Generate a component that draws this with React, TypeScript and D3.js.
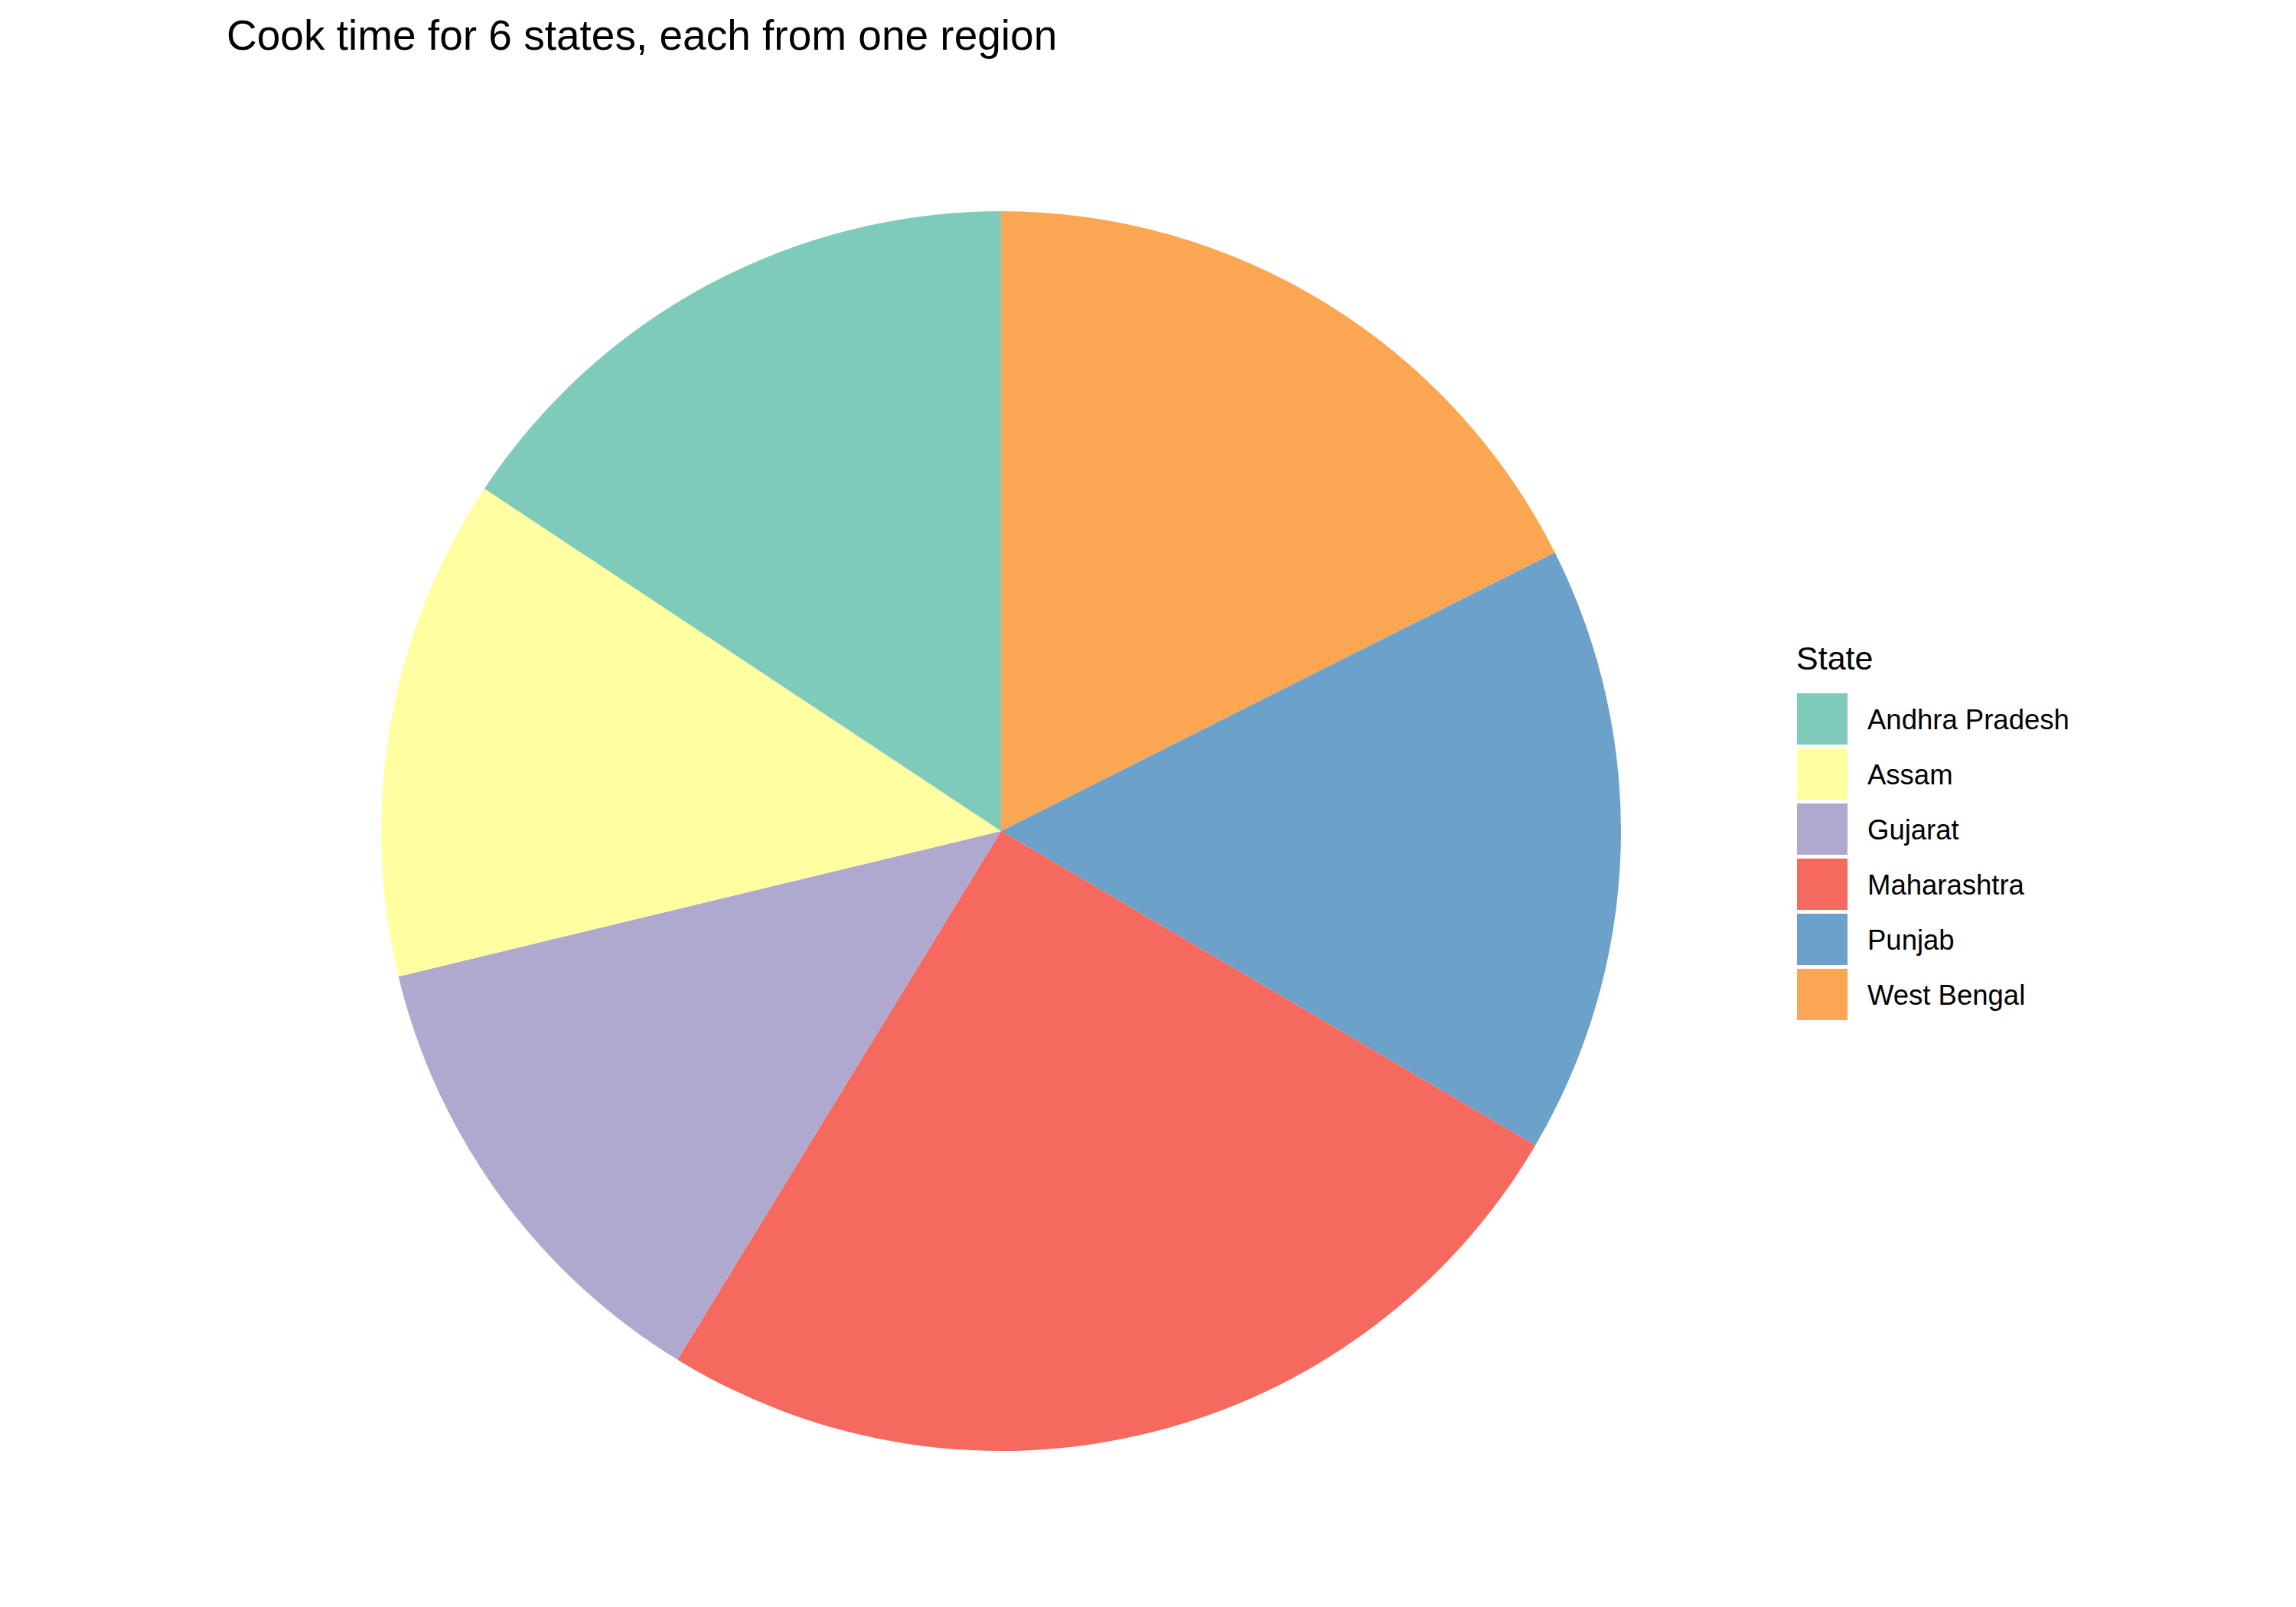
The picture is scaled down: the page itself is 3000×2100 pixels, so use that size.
import React from "react";
import * as d3 from "d3";

const states = ["Andhra Pradesh", "Assam", "Gujarat", "Maharashtra", "Punjab", "West Bengal"];
const cookTimes = [157, 131, 125, 253, 159, 176];
const colors = ["#7fcbba", "#ffffa2", "#b0a9cf", "#f6695f", "#6ca1c9", "#fba652"];
const titleText = "Cook time for 6 states, each from one region";
const legendTitle = "State";

export default function App() {
  const W = 3000, H = 2100;
  const cx = 1308, cy = 1086, R = 810;
  const data = states.map((s, i) => ({ state: s, value: cookTimes[i], color: colors[i] }));
  const ordered = [...data].reverse();
  const pie = d3.pie<any>().sort(null).value((d) => d.value).startAngle(0).endAngle(2 * Math.PI);
  const arcs = pie(ordered);
  const arcGen = d3.arc<any>().innerRadius(0).outerRadius(R);
  const keyY = d3.scaleBand<string>().domain(states).range([906, 906 + 72 * states.length]).paddingInner(0);
  const font = "Liberation Sans, Arial, Helvetica, sans-serif";
  return (
    <svg width={W} height={H} style={{ position: "absolute", left: 0, top: 0, background: "#fff" }} fontFamily={font}>
      <rect x={0} y={0} width={W} height={H} fill="#fff" />
      <text x={296} y={65} fontSize={55} fill="#000">{titleText}</text>
      <g transform={`translate(${cx},${cy})`}>
        {arcs.map((a, i) => (
          <path key={i} d={arcGen(a) as string} fill={a.data.color} />
        ))}
      </g>
      <text x={2347} y={875} fontSize={43} fill="#000">{legendTitle}</text>
      {data.map((d) => {
        const y = keyY(d.state) as number;
        return (
          <g key={d.state}>
            <rect x={2348} y={y} width={66} height={67} fill={d.color} />
            <text x={2440} y={y + 47} fontSize={36.5} fill="#000">{d.state}</text>
          </g>
        );
      })}
    </svg>
  );
}
